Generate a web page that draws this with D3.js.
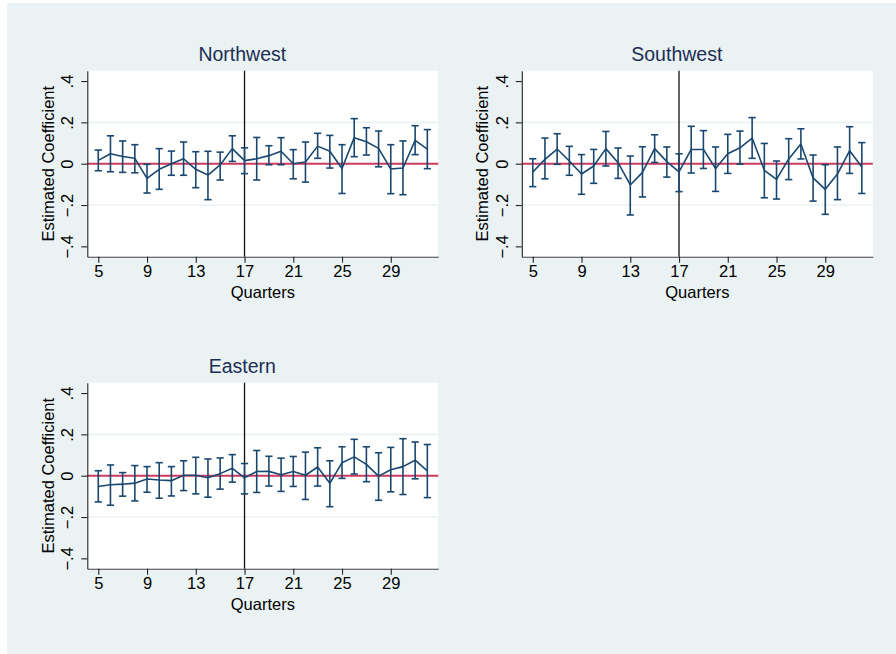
<!DOCTYPE html>
<html>
<head>
<meta charset="utf-8">
<script src="https://cdn.jsdelivr.net/npm/d3@7"></script>
<style>
  html, body { margin: 0; padding: 0; background: #ffffff; }
  svg { display: block; font-family: "Liberation Sans", Arial, Helvetica, sans-serif; }
</style>
</head>
<body>
<svg id="chart" width="896" height="654"></svg>
<script>
// Event-study coefficients by quarter, with 95% confidence bounds, per region
const quarters = [5,6,7,8,9,10,11,12,13,14,15,16,17,18,19,20,21,22,23,24,25,26,27,28,29,30,31,32];

const northwestEst = [0.016,0.048,0.035,0.026,-0.071,-0.027,0.000,0.024,-0.027,-0.055,-0.006,0.073,0.015,0.024,0.039,0.060,0.000,0.008,0.085,0.060,-0.023,0.126,0.106,0.074,-0.026,-0.021,0.113,0.071];
const northwestLo  = [-0.034,-0.039,-0.042,-0.044,-0.142,-0.124,-0.056,-0.056,-0.116,-0.174,-0.079,0.011,-0.048,-0.079,-0.005,-0.005,-0.073,-0.089,0.026,-0.021,-0.144,0.034,0.042,-0.015,-0.145,-0.150,0.044,-0.024];
const northwestHi  = [0.066,0.135,0.110,0.092,-0.003,0.073,0.061,0.105,0.058,0.060,0.056,0.135,0.077,0.127,0.087,0.126,0.068,0.105,0.147,0.137,0.092,0.218,0.174,0.158,0.092,0.110,0.184,0.165];

const southwestEst = [-0.040,0.021,0.071,0.013,-0.050,-0.011,0.073,0.005,-0.103,-0.042,0.073,0.010,-0.040,0.069,0.069,-0.023,0.048,0.077,0.124,-0.032,-0.076,0.023,0.095,-0.069,-0.124,-0.050,0.063,-0.016];
const southwestLo  = [-0.111,-0.073,-0.003,-0.056,-0.148,-0.095,-0.011,-0.071,-0.248,-0.161,0.006,-0.065,-0.135,-0.045,-0.023,-0.134,-0.047,-0.002,0.026,-0.165,-0.171,-0.077,0.023,-0.181,-0.245,-0.174,-0.047,-0.144];
const southwestHi  = [0.024,0.124,0.145,0.084,0.044,0.069,0.156,0.076,0.037,0.082,0.140,0.081,0.048,0.181,0.160,0.081,0.142,0.158,0.223,0.098,0.013,0.121,0.169,0.042,-0.005,0.081,0.179,0.102];

const easternEst = [-0.052,-0.044,-0.041,-0.036,-0.016,-0.021,-0.024,0.002,0.002,-0.010,0.010,0.036,-0.010,0.020,0.021,0.005,0.020,0.002,0.042,-0.037,0.063,0.091,0.055,-0.002,0.029,0.044,0.075,0.023];
const easternLo  = [-0.127,-0.143,-0.099,-0.122,-0.080,-0.109,-0.098,-0.072,-0.088,-0.104,-0.065,-0.031,-0.088,-0.081,-0.050,-0.076,-0.052,-0.115,-0.050,-0.150,-0.013,0.008,-0.029,-0.119,-0.078,-0.091,-0.015,-0.106];
const easternHi  = [0.024,0.052,0.015,0.049,0.044,0.063,0.044,0.072,0.089,0.081,0.086,0.102,0.059,0.122,0.094,0.085,0.093,0.114,0.135,0.072,0.140,0.176,0.140,0.111,0.137,0.179,0.163,0.151];

const panelTitles = ["Northwest", "Southwest", "Eastern"];
const xTickValues = [5, 9, 13, 17, 21, 25, 29];
const yTickValues = [-0.4, -0.2, 0, 0.2, 0.4];
const yTickLabels = ["\u2212.4", "\u2212.2", "0", ".2", ".4"];
const gridValues = [-0.2, 0.2];
const eventQuarter = 17;
const xTitle = "Quarters";
const yTitle = "Estimated Coefficient";

const panelData = [
  { est: northwestEst, lo: northwestLo, hi: northwestHi },
  { est: southwestEst, lo: southwestLo, hi: southwestHi },
  { est: easternEst,   lo: easternLo,   hi: easternHi }
];

// Layout
const svg = d3.select("#chart");
const W = 896, H = 654;
svg.append("rect").attr("width", W).attr("height", H).attr("fill", "#ffffff");
svg.append("rect").attr("x", 7).attr("y", 3).attr("width", W - 7).attr("height", H - 3).attr("fill", "#EAF2F3");

const plotW = 351, plotH = 186;
const origins = [
  { x: 87.3, y: 70.7 },
  { x: 521.8, y: 70.7 },
  { x: 87.3, y: 382.7 }
];

const navy = "#1a476f";
const zeroColor = "#cc3a5e";
const fontSize = 16.5;

panelData.forEach((d, i) => {
  const o = origins[i];
  const g = svg.append("g").attr("transform", `translate(${o.x},${o.y})`);

  const x = d3.scaleLinear().domain([4.1, 32.9]).range([0, plotW]);
  const y = d3.scaleLinear().domain([-0.45, 0.45]).range([plotH, 0]);

  // plot region
  g.append("rect").attr("width", plotW).attr("height", plotH).attr("fill", "#ffffff");

  // grid lines
  g.selectAll(".grid").data(gridValues).join("line")
    .attr("x1", 0).attr("x2", plotW)
    .attr("y1", v => y(v)).attr("y2", v => y(v))
    .attr("stroke", "#EAF2F3").attr("stroke-width", 1.6);

  // reference lines
  g.append("line")
    .attr("x1", 0).attr("x2", plotW)
    .attr("y1", y(0)).attr("y2", y(0))
    .attr("stroke", zeroColor).attr("stroke-width", 2);

  g.append("line")
    .attr("x1", x(eventQuarter)).attr("x2", x(eventQuarter))
    .attr("y1", 0).attr("y2", plotH)
    .attr("stroke", "#111111").attr("stroke-width", 1.3);

  // confidence intervals
  const cap = 3.6;
  const ci = g.append("g").attr("stroke", navy).attr("stroke-width", 1.6).attr("fill", "none");
  quarters.forEach((q, k) => {
    const xx = x(q), y1 = y(d.lo[k]), y2 = y(d.hi[k]);
    ci.append("line").attr("x1", xx).attr("x2", xx).attr("y1", y1).attr("y2", y2);
    ci.append("line").attr("x1", xx - cap).attr("x2", xx + cap).attr("y1", y1).attr("y2", y1);
    ci.append("line").attr("x1", xx - cap).attr("x2", xx + cap).attr("y1", y2).attr("y2", y2);
  });

  // point estimates
  const line = d3.line().x((q) => x(q)).y((q, k) => y(d.est[k]));
  g.append("path").datum(quarters).attr("d", line)
    .attr("fill", "none").attr("stroke", navy).attr("stroke-width", 1.6)
    .attr("stroke-linejoin", "round");

  // axes
  const xAxis = d3.axisBottom(x).tickValues(xTickValues).tickSize(6).tickPadding(3).tickSizeOuter(0);
  const xg = g.append("g").attr("transform", `translate(0,${plotH})`).call(xAxis);
  xg.select(".domain").attr("stroke", "#444").attr("stroke-width", 1.1);
  xg.selectAll(".tick line").attr("stroke", "#222").attr("stroke-width", 1.1);
  xg.selectAll(".tick text").attr("font-size", fontSize).attr("fill", "#000")
    .attr("font-family", "Liberation Sans, Arial, sans-serif");

  const yAxis = d3.axisLeft(y).tickValues(yTickValues).tickSize(6).tickSizeOuter(0)
    .tickFormat((v, k) => yTickLabels[k]);
  const yg = g.append("g").call(yAxis);
  yg.select(".domain").attr("stroke", "#222").attr("stroke-width", 1.1);
  yg.selectAll(".tick line").attr("stroke", "#222").attr("stroke-width", 1.1);
  yg.selectAll(".tick text")
    .attr("font-size", fontSize).attr("fill", "#000")
    .attr("font-family", "Liberation Sans, Arial, sans-serif")
    .attr("x", null).attr("dy", null)
    .attr("transform", "translate(-14,0) rotate(-90)")
    .attr("text-anchor", "middle");

  // axis titles
  g.append("text")
    .attr("x", x(18.5)).attr("y", plotH + 41.6)
    .attr("text-anchor", "middle").attr("font-size", fontSize).attr("fill", "#000")
    .text(xTitle);

  g.append("text")
    .attr("transform", `translate(-33.5,${plotH / 2}) rotate(-90)`)
    .attr("text-anchor", "middle").attr("font-size", fontSize).attr("fill", "#000")
    .text(yTitle);

  // panel title
  g.append("text")
    .attr("x", 155).attr("y", -9.5)
    .attr("text-anchor", "middle").attr("font-size", 19.5).attr("fill", "#1c2e54")
    .text(panelTitles[i]);
});
</script>
</body>
</html>
